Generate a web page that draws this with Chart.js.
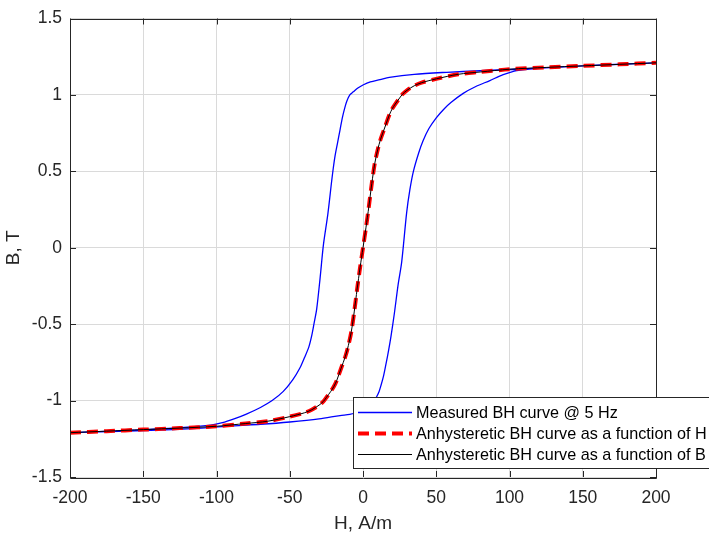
<!DOCTYPE html>
<html>
<head>
<meta charset="utf-8">
<script src="https://cdn.jsdelivr.net/npm/chart.js@4.4.1/dist/chart.umd.min.js"></script>
<style>
  html, body { margin: 0; padding: 0; background: #fff; }
  #wrap { width: 709px; height: 538px; }
</style>
</head>
<body>
<div id="wrap"><canvas id="canvas" width="709" height="538"></canvas></div>
<script>
// Measured loop, descending branch (H from +200 down to -200)
const upperH = [200, 150, 105, 80, 57, 35, 18, 11.6, 5, 0, -3.5, -6.6, -9, -11, -12.3, -14, -15.7, -17.5, -19.1, -20.3, -21.4, -24, -27, -29.3, -31.6, -33.5, -35, -37, -40, -43, -48, -54.4, -62, -70, -80, -88, -96, -104, -130, -160, -200];
const upperB = [1.21, 1.19, 1.168, 1.158, 1.148, 1.135, 1.115, 1.1, 1.085, 1.065, 1.045, 1.02, 1.0, 0.96, 0.92, 0.855, 0.77, 0.68, 0.6, 0.52, 0.435, 0.22, 0.02, -0.2, -0.4, -0.5, -0.575, -0.65, -0.72, -0.785, -0.865, -0.94, -1.0, -1.045, -1.09, -1.12, -1.145, -1.16, -1.18, -1.195, -1.21];

// Measured loop, ascending branch (H from -200 up to +200)
const lowerH = [-200, -160, -130, -110, -88, -70, -50, -30, -15.7, -9, -4, 0, 3.5, 6.6, 9.3, 11, 12.3, 14, 15.7, 17.5, 19.1, 21.4, 24, 26.4, 29.8, 32, 34.4, 38, 41, 45, 50, 55, 60, 68.4, 77, 86.6, 95, 105, 130, 160, 200];
const lowerB = [-1.21, -1.2, -1.19, -1.18, -1.165, -1.155, -1.14, -1.12, -1.098, -1.09, -1.078, -1.063, -1.045, -1.02, -0.975, -0.94, -0.9, -0.84, -0.76, -0.67, -0.58, -0.43, -0.24, -0.094, 0.23, 0.38, 0.5, 0.62, 0.7, 0.78, 0.85, 0.905, 0.95, 1.01, 1.055, 1.094, 1.13, 1.159, 1.18, 1.195, 1.21];

// Anhysteretic curve
const anhH = [-200, -175, -150, -125, -100, -80, -65, -50, -40, -35, -30, -27, -25, -22, -20, -18, -15, -12, -10, -8, -6, -4, -2, 0, 2, 4, 6, 8, 10, 12, 15, 18, 20, 22, 25, 27, 30, 35, 40, 50, 65, 80, 100, 125, 150, 175, 200];
const anhB = [-1.21, -1.2, -1.19, -1.18, -1.168, -1.15, -1.135, -1.105, -1.08, -1.06, -1.03, -1.005, -0.98, -0.94, -0.91, -0.87, -0.79, -0.71, -0.64, -0.55, -0.42, -0.27, -0.13, 0, 0.13, 0.27, 0.42, 0.55, 0.64, 0.71, 0.79, 0.87, 0.91, 0.94, 0.98, 1.005, 1.03, 1.06, 1.08, 1.105, 1.135, 1.15, 1.168, 1.18, 1.19, 1.2, 1.21];

const legendLabels = [
  "Measured BH curve @ 5 Hz",
  "Anhysteretic BH curve as a function of H",
  "Anhysteretic BH curve as a function of B"
];

const xTicks = [-200, -150, -100, -50, 0, 50, 100, 150, 200];
const yTicks = [-1.5, -1, -0.5, 0, 0.5, 1, 1.5];

function toPoints(hs, bs) {
  return hs.map((h, i) => ({ x: h, y: bs[i] }));
}

// measured loop drawn as one path: descending then ascending
const loopPts = toPoints(upperH, upperB).concat(toPoints(lowerH, lowerB));

const axisColor = "#262626";
const fontFam = "'Liberation Sans', Arial, Helvetica, sans-serif";

// box, inward ticks and legend (MATLAB style)
const matlabBox = {
  id: "matlabBox",
  afterDraw(chart) {
    const ctx = chart.ctx;
    const a = chart.chartArea;
    const x = chart.scales.x, y = chart.scales.y;
    ctx.save();
    ctx.strokeStyle = axisColor;
    ctx.lineWidth = 1;
    ctx.beginPath();
    ctx.rect(Math.round(a.left) + 0.5, Math.round(a.top) + 0.5, Math.round(a.right - a.left), Math.round(a.bottom - a.top));
    xTicks.forEach(v => {
      const px = Math.round(x.getPixelForValue(v)) + 0.5;
      ctx.moveTo(px, a.bottom); ctx.lineTo(px, a.bottom - 6);
      ctx.moveTo(px, a.top); ctx.lineTo(px, a.top + 6);
    });
    yTicks.forEach(v => {
      const py = Math.round(y.getPixelForValue(v)) + 0.5;
      ctx.moveTo(a.left, py); ctx.lineTo(a.left + 6, py);
      ctx.moveTo(a.right, py); ctx.lineTo(a.right - 6, py);
    });
    ctx.stroke();

    // legend
    const lx = 353, ly = 397, lw = 400, lh = 71;
    ctx.fillStyle = "#fff";
    ctx.fillRect(lx, ly, lw, lh);
    ctx.strokeStyle = axisColor;
    ctx.strokeRect(lx + 0.5, ly + 0.5, lw, lh);
    const rows = [412.5, 433.5, 454.5];
    const ds = chart.data.datasets;
    const order = [2, 1, 0];
    ctx.font = "16.2px " + fontFam;
    ctx.textBaseline = "middle";
    rows.forEach((ry, i) => {
      const d = ds[order[i]];
      ctx.beginPath();
      ctx.strokeStyle = d.borderColor;
      ctx.lineWidth = d.borderWidth;
      ctx.setLineDash(d.borderDash || []);
      ctx.moveTo(358, ry); ctx.lineTo(412, ry);
      ctx.stroke();
      ctx.setLineDash([]);
      ctx.fillStyle = "#000";
      ctx.fillText(legendLabels[i], 416, ry + 1);
    });
    ctx.restore();
  }
};

new Chart(document.getElementById("canvas"), {
  type: "scatter",
  data: {
    datasets: [
      {
        label: legendLabels[2],
        data: toPoints(anhH, anhB),
        showLine: true, pointRadius: 0, tension: 0.3,
        borderColor: "#000", borderWidth: 1,
        order: 1
      },
      {
        label: legendLabels[1],
        data: toPoints(anhH, anhB),
        showLine: true, pointRadius: 0, tension: 0.3,
        borderColor: "#ff0000", borderWidth: 4,
        borderDash: [11, 6],
        order: 2
      },
      {
        label: legendLabels[0],
        data: loopPts,
        showLine: true, pointRadius: 0, tension: 0.3,
        borderColor: "#0000ff", borderWidth: 1.3,
        order: 3
      }
    ]
  },
  options: {
    responsive: false,
    animation: false,
    layout: { padding: { top: 14, right: 53, left: 0, bottom: 0 } },
    plugins: { legend: { display: false }, tooltip: { enabled: false } },
    scales: {
      x: {
        type: "linear", min: -200, max: 200,
        afterFit(s) { s.height = 61; },
        afterBuildTicks(s) { s.ticks = xTicks.map(v => ({ value: v })); },
        grid: { color: "#dadada", drawTicks: false },
        border: { display: false },
        ticks: { padding: 11, color: axisColor, font: { family: fontFam, size: 17.5 }, maxRotation: 0,
                 callback: v => String(v) },
        title: { display: true, text: "H, A/m", color: axisColor, font: { family: fontFam, size: 19 },
                 padding: { top: 0, bottom: 3 } }
      },
      y: {
        type: "linear", min: -1.5, max: 1.5,
        afterFit(s) { s.width = 70; },
        afterBuildTicks(s) { s.ticks = yTicks.map(v => ({ value: v })); },
        grid: { color: "#dadada", drawTicks: false },
        border: { display: false },
        ticks: { padding: 8, color: axisColor, font: { family: fontFam, size: 17.5 },
                 callback: v => String(v) },
        title: { display: true, text: "B, T", color: axisColor, font: { family: fontFam, size: 19 },
                 padding: { top: 2, bottom: 0 } }
      }
    }
  },
  plugins: [matlabBox]
});
</script>
</body>
</html>
